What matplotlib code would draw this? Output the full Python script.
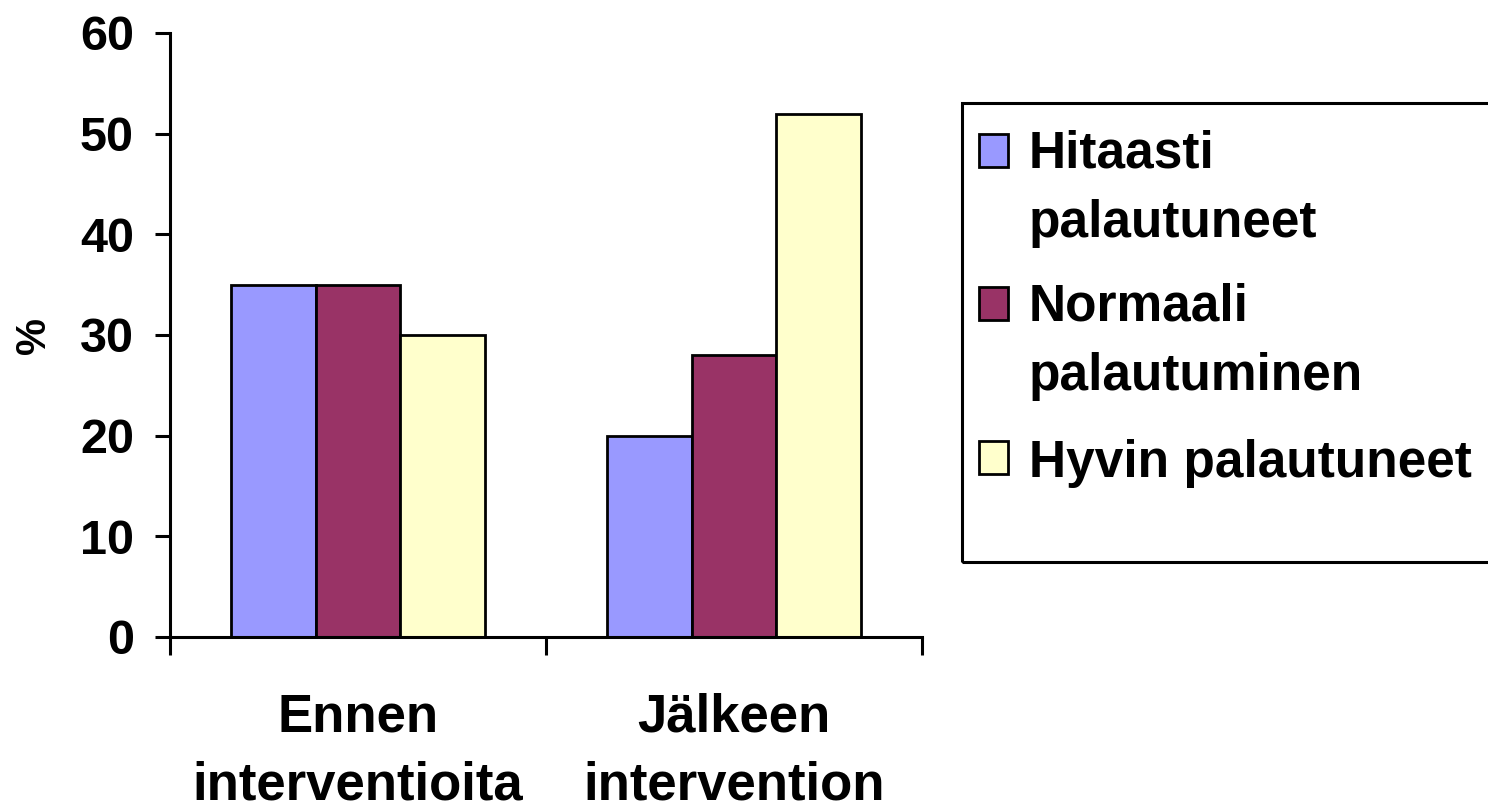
import matplotlib.pyplot as plt
from matplotlib.patches import Rectangle
import numpy as np

plt.rcParams['font.family'] = ['Liberation Sans', 'DejaVu Sans']
plt.rcParams['font.weight'] = 'bold'

categories = ["Ennen\ninterventioita", "Jälkeen\nintervention"]
series = ["Hitaasti\npalautuneet", "Normaali\npalautuminen", "Hyvin palautuneet"]
values = [
    [35, 20],   # Hitaasti palautuneet
    [35, 28],   # Normaali palautuminen
    [30, 52],   # Hyvin palautuneet
]
colors = ["#9999FF", "#993366", "#FFFFCC"]
yticks = [0, 10, 20, 30, 40, 50, 60]

W, H = 1488, 810
fig = plt.figure(figsize=(W / 100, H / 100), dpi=100)
ax = fig.add_axes([170 / W, 173 / H, 752 / W, 604 / H])

x = np.arange(len(categories))
w = 0.226
for i, (vals, c) in enumerate(zip(values, colors)):
    ax.bar(x + (i - 1) * w, vals, width=w, color=c, edgecolor='black',
           linewidth=2.0, label=series[i], zorder=2)

ax.set_xlim(-0.5, 1.5)
ax.set_ylim(0, 60)
ax.set_yticks(yticks)
ax.set_yticklabels([str(t) for t in yticks], fontsize=35, fontweight='bold')

# category boundaries as major ticks, names as minor ticks
ax.set_xticks([-0.5, 0.5, 1.5])
ax.set_xticklabels([])
ax.set_xticks(x, minor=True)
ax.set_xticklabels(categories, minor=True, fontsize=38, fontweight='bold',
                   linespacing=1.47)
ax.tick_params(axis='x', which='minor', length=0, pad=40)
ax.tick_params(axis='x', which='major', length=13, width=2.2, direction='out')
ax.tick_params(axis='y', length=11, width=2.2, direction='out', pad=15)

for s in ['top', 'right']:
    ax.spines[s].set_visible(False)
for s in ['left', 'bottom']:
    ax.spines[s].set_linewidth(2.2)
ax.spines['bottom'].set_zorder(3)

ax.set_ylabel("%", fontsize=30, fontweight='bold')
ax.yaxis.set_label_coords(-0.154, 0.5)

# legend: frame, swatches aligned with the first line of each label
fig.patches.append(Rectangle((962 / W, (H - 562) / H), 600 / W, 459 / H,
                             transform=fig.transFigure, facecolor='none',
                             edgecolor='black', linewidth=2.2))
first_baselines = [170, 323, 477]
line_step = 67
for lab, c, yb in zip(series, colors, first_baselines):
    fig.patches.append(Rectangle((979 / W, (H - yb + 3) / H), 29 / W, 33 / H,
                                 transform=fig.transFigure, facecolor=c,
                                 edgecolor='black', linewidth=2.0))
    last_base = yb + (lab.count("\n")) * line_step
    fig.text(1029 / W, (H - last_base) / H, lab, fontsize=37, fontweight='bold',
             ha='left', va='baseline', linespacing=1.55)

fig.savefig("out.png", dpi=100)
